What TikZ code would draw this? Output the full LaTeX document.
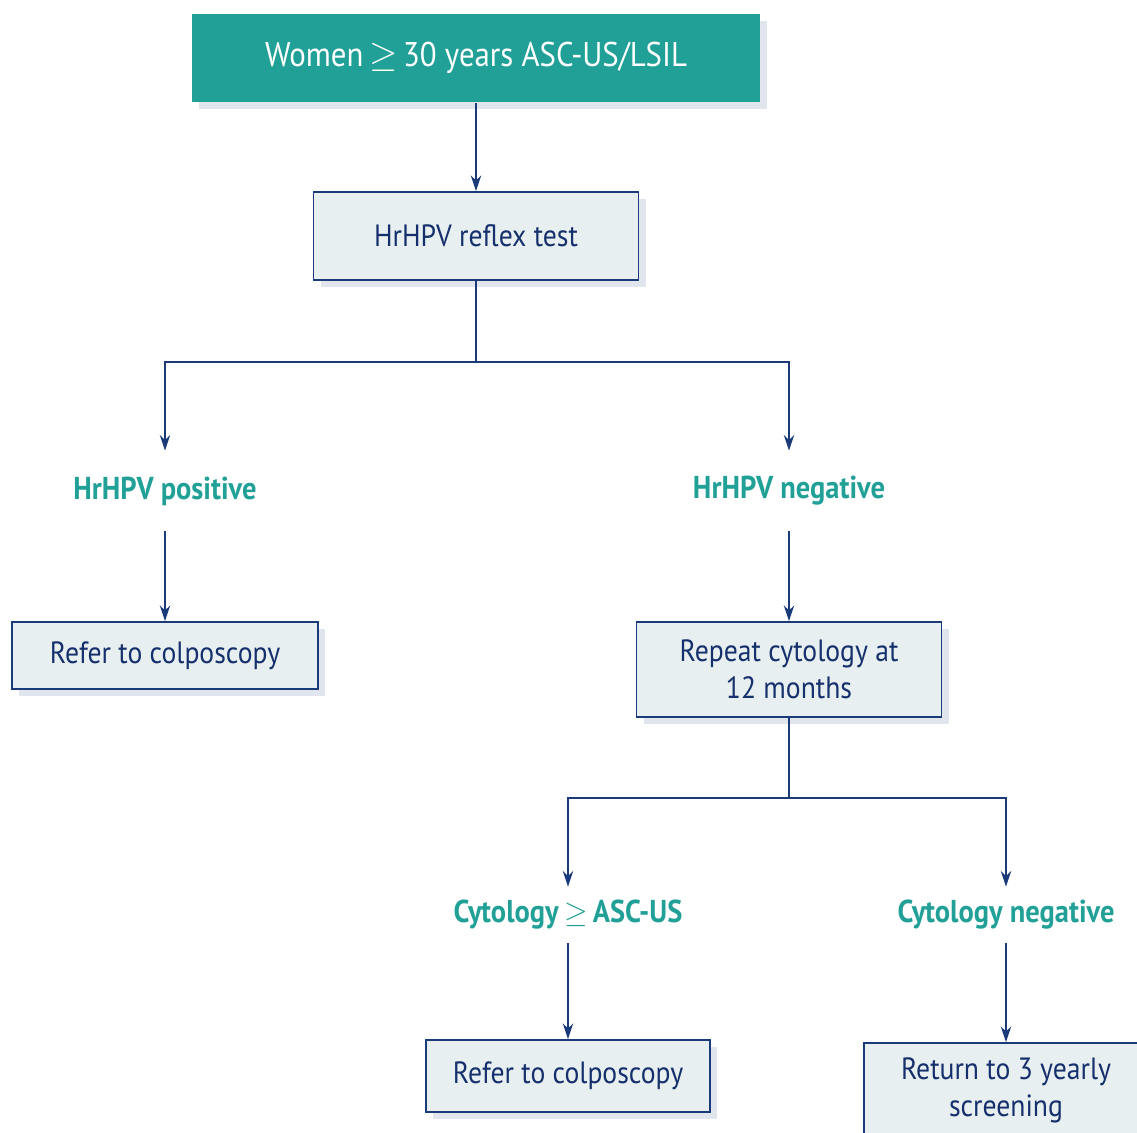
\documentclass[tikz,border=0pt]{standalone}
\usepackage{fontspec}
\setmainfont{PT Sans}[FakeStretch=0.9]
\usetikzlibrary{arrows.meta,shadows}
\definecolor{hpvteal}{HTML}{21A097}
\definecolor{boxfill}{HTML}{E8EFF0}
\definecolor{navy}{HTML}{1A3A7A}
\definecolor{navytext}{HTML}{15306C}

\begin{document}
\begin{tikzpicture}[x=0.02cm,y=-0.02cm,
		box/.style={draw=navy,line width=1pt,fill=boxfill,text=navytext,align=center,
			font=\fontsize{17.5}{21}\selectfont,
			drop shadow={shadow xshift=4pt,shadow yshift=-4pt,opacity=0.22,fill=navy!60}},
		result/.style={text=hpvteal,font=\fontsize{18}{21}\selectfont\bfseries,minimum height=1.6cm},
		arr/.style={-{Stealth[length=9pt,width=6pt]},draw=navy,line width=0.8pt}]
	\useasboundingbox (0,0) rectangle (1137,1133);
	\node[box,draw=none,fill=hpvteal,text=white,minimum width=11.36cm,minimum height=1.76cm,
		font=\fontsize{19.5}{23}\selectfont] (women) at (476,58) {Women\,$\geq$\,30 years ASC-US/LSIL};
	\node[box,minimum width=6.5cm,minimum height=1.76cm] (reflex) at (476,236) {HrHPV reflex test};
	\node[result] (hpvpos) at (165,491) {HrHPV positive};
	\node[result] (hpvneg) at (789,491) {HrHPV negative};
	\node[box,minimum width=6.12cm,minimum height=1.34cm] (colpoA) at (165,655.5) {Refer to colposcopy};
	\node[box,minimum width=6.1cm,minimum height=1.9cm] (repeat) at (789,669.5) {Repeat cytology at\\12 months};
	\node[result,minimum height=1.12cm] (cytpos) at (568,915) {Cytology\,$\geq$\,ASC-US};
	\node[result,minimum height=1.12cm] (cytneg) at (1006,915) {Cytology negative};
	\node[box,minimum width=5.68cm,minimum height=1.44cm] (colpoB) at (568,1076) {Refer to colposcopy};
	\node[box,minimum width=5.68cm,minimum height=1.9cm] (back) at (1006,1090.5) {Return to 3 yearly\\screening};
	\coordinate (splitA) at (476,362);
	\coordinate (splitB) at (789,798);
	\draw[arr] (women) -- (reflex);
	\draw[draw=navy,line width=0.8pt] (reflex) -- (splitA);
	\draw[arr] (splitA) -| (hpvpos.north);
	\draw[arr] (splitA) -| (hpvneg.north);
	\draw[arr] (hpvpos) -- (colpoA);
	\draw[arr] (hpvneg) -- (repeat);
	\draw[draw=navy,line width=0.8pt] (repeat) -- (splitB);
	\draw[arr] (splitB) -| (cytpos.north);
	\draw[arr] (splitB) -| (cytneg.north);
	\draw[arr] (cytpos) -- (colpoB);
	\draw[arr] (cytneg) -- (back);
\end{tikzpicture}
\end{document}
